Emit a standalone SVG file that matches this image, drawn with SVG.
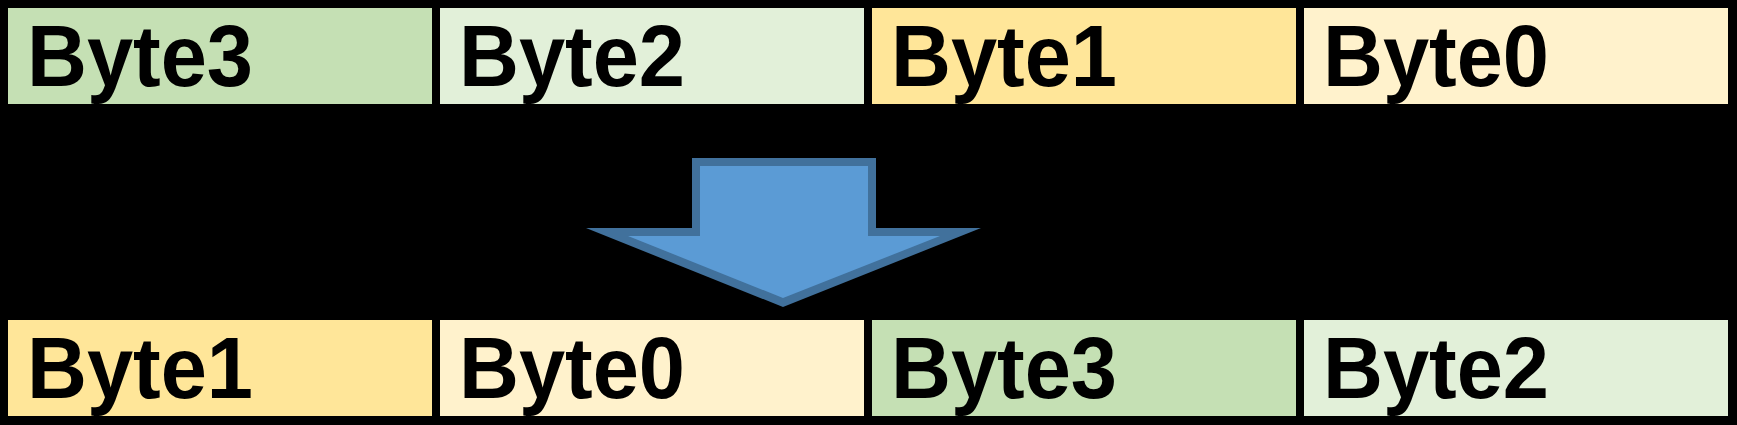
<svg xmlns="http://www.w3.org/2000/svg" width="1737" height="425" viewBox="0 0 1737 425">
<style>
.lbl{font-family:"Liberation Sans","Noto Sans CJK JP",sans-serif;font-weight:bold;font-size:88px;fill:#000}
.b3{fill:#C5E0B4}.b2{fill:#E2F0D9}.b1{fill:#FFE699}.b0{fill:#FFF2CC}
</style>
<rect x="0" y="0" width="1737" height="425" fill="#000"/>
<g id="top-byte3"><rect class="b3" x="8" y="8" width="424" height="96"/><text class="lbl" x="27" y="86" textLength="226" lengthAdjust="spacingAndGlyphs">Byte3</text></g>
<g id="top-byte2"><rect class="b2" x="440" y="8" width="424" height="96"/><text class="lbl" x="459" y="86" textLength="226" lengthAdjust="spacingAndGlyphs">Byte2</text></g>
<g id="top-byte1"><rect class="b1" x="872" y="8" width="424" height="96"/><text class="lbl" x="891" y="86" textLength="226" lengthAdjust="spacingAndGlyphs">Byte1</text></g>
<g id="top-byte0"><rect class="b0" x="1304" y="8" width="424" height="96"/><text class="lbl" x="1323" y="86" textLength="226" lengthAdjust="spacingAndGlyphs">Byte0</text></g>
<g id="connectors">
<polygon points="692,158 876,158 876,228 981,228 783,307 586,228 692,228" fill="#41719C"/>
<polygon points="700,166 868,166 868,236 940,236 783,298 628,236 700,236" fill="#5B9BD5"/>
</g>
<g id="bot-byte1"><rect class="b1" x="8" y="320" width="424" height="96"/><text class="lbl" x="27" y="398" textLength="226" lengthAdjust="spacingAndGlyphs">Byte1</text></g>
<g id="bot-byte0"><rect class="b0" x="440" y="320" width="424" height="96"/><text class="lbl" x="459" y="398" textLength="226" lengthAdjust="spacingAndGlyphs">Byte0</text></g>
<g id="bot-byte3"><rect class="b3" x="872" y="320" width="424" height="96"/><text class="lbl" x="891" y="398" textLength="226" lengthAdjust="spacingAndGlyphs">Byte3</text></g>
<g id="bot-byte2"><rect class="b2" x="1304" y="320" width="424" height="96"/><text class="lbl" x="1323" y="398" textLength="226" lengthAdjust="spacingAndGlyphs">Byte2</text></g>
</svg>
